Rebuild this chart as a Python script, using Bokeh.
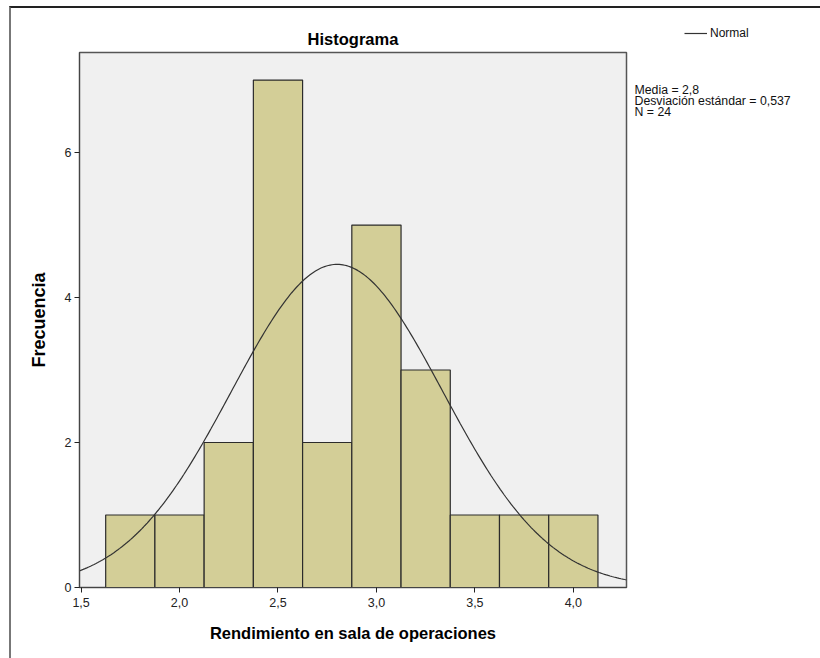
import numpy as np
from bokeh.plotting import figure
from bokeh.layouts import row
from bokeh.models import (ColumnDataSource, Range1d, FixedTicker, Label, Legend,
                          LegendItem)
from bokeh.embed import file_html
from bokeh.resources import INLINE

# ---- data ----
bin_left = [1.625, 1.875, 2.125, 2.375, 2.625, 2.875, 3.125, 3.375, 3.625, 3.875]
bin_right = [1.875, 2.125, 2.375, 2.625, 2.875, 3.125, 3.375, 3.625, 3.875, 4.125]
counts = [1, 1, 2, 7, 2, 5, 3, 1, 1, 1]
mean = 2.8
std = 0.537
n = 24
x_ticks = [1.5, 2.0, 2.5, 3.0, 3.5, 4.0]
x_tick_labels = ["1,5", "2,0", "2,5", "3,0", "3,5", "4,0"]
y_ticks = [0, 2, 4, 6]
stats_lines = ["Media = 2,8", "Desviación estándar = 0,537", "N = 24"]

FONT = "Liberation Sans"

# ---- main histogram ----
p = figure(width=617, height=650, output_backend="svg", toolbar_location=None,
           x_range=Range1d(1.492, 4.27), y_range=Range1d(0, 7.38),
           min_border_left=68, min_border_right=2, min_border_top=44,
           min_border_bottom=71)
p.frame_align = False

p.background_fill_color = "#F0F0F0"
p.border_fill_color = "white"
p.outline_line_color = "#555555"
p.outline_line_width = 1.5
p.grid.visible = False

src = ColumnDataSource(dict(left=bin_left, right=bin_right, top=counts,
                            bottom=[0] * len(counts)))
p.quad(left="left", right="right", top="top", bottom="bottom", source=src,
       fill_color="#D3CE97", line_color="#2b2b2b", line_width=1.2)

bw = bin_right[0] - bin_left[0]
xs = np.linspace(1.492, 4.27, 300)
ys = n * bw / (std * np.sqrt(2 * np.pi)) * np.exp(-0.5 * ((xs - mean) / std) ** 2)
p.line(xs, ys, line_color="#333333", line_width=1.2)

p.xaxis.ticker = FixedTicker(ticks=x_ticks)
p.xaxis.major_label_overrides = {t: l for t, l in zip(x_ticks, x_tick_labels)}
p.yaxis.ticker = FixedTicker(ticks=y_ticks)
for ax in (p.xaxis, p.yaxis):
    ax.minor_tick_line_color = None
    ax.major_tick_in = 0
    ax.major_tick_out = 5
    ax.major_tick_line_color = "#222222"
    ax.axis_line_color = "#444444"
    ax.major_label_text_font = FONT
    ax.major_label_text_font_size = "12.5px"
    ax.major_label_text_color = "#222222"
    ax.axis_label_text_font = FONT
    ax.axis_label_text_font_style = "bold"
    ax.axis_label_text_font_size = "16.5px"
    ax.axis_label_text_color = "black"
p.yaxis.axis_label_text_font_size = "18px"
p.xaxis.axis_label = "Rendimiento en sala de operaciones"
p.yaxis.axis_label = "Frecuencia"
p.xaxis.major_label_standoff = 5
p.yaxis.major_label_standoff = 3
p.xaxis.axis_label_standoff = 14
p.yaxis.axis_label_standoff = 13

p.title.text = "Histograma"
p.title.align = "center"
p.title.text_color = "black"
p.title.text_font = FONT
p.title.text_font_size = "16.5px"
p.title.text_font_style = "bold"
p.title.offset = 0
p.title.standoff = 9

# ---- side panel: legend and statistics ----
s = figure(width=192, height=650, output_backend="svg", toolbar_location=None,
           x_range=Range1d(0, 192), y_range=Range1d(650, 0),
           min_border=0, outline_line_color=None)
s.frame_align = False
s.axis.visible = False
s.grid.visible = False
s.background_fill_color = "white"
s.border_fill_color = "white"

# legend key renderer (carries only the line style of the normal curve)
legend_line = s.line(x=[np.nan, np.nan], y=[np.nan, np.nan],
                     line_color="#333333", line_width=1.2)
legend = Legend(items=[LegendItem(label="Normal", renderers=[legend_line])],
                location=(56, 618), orientation="vertical",
                background_fill_alpha=0, border_line_color=None,
                label_text_font=FONT, label_text_font_size="12px",
                label_text_color="#111111",
                glyph_width=23, glyph_height=12, label_height=12,
                label_standoff=3, padding=0, margin=0, spacing=0)
s.add_layout(legend)

for i, line in enumerate(stats_lines):
    s.add_layout(Label(x=6, y=81 + i * 11, text=line, text_font=FONT,
                       text_font_size="12.3px", text_color="#111111",
                       text_baseline="middle"))

layout = row(p, s, styles={"margin-left": "9px", "margin-top": "6px",
                           "border-left": "2px solid #777777",
                           "border-top": "2px solid #222222"})

open("out.html", "w").write(file_html(layout, INLINE))
